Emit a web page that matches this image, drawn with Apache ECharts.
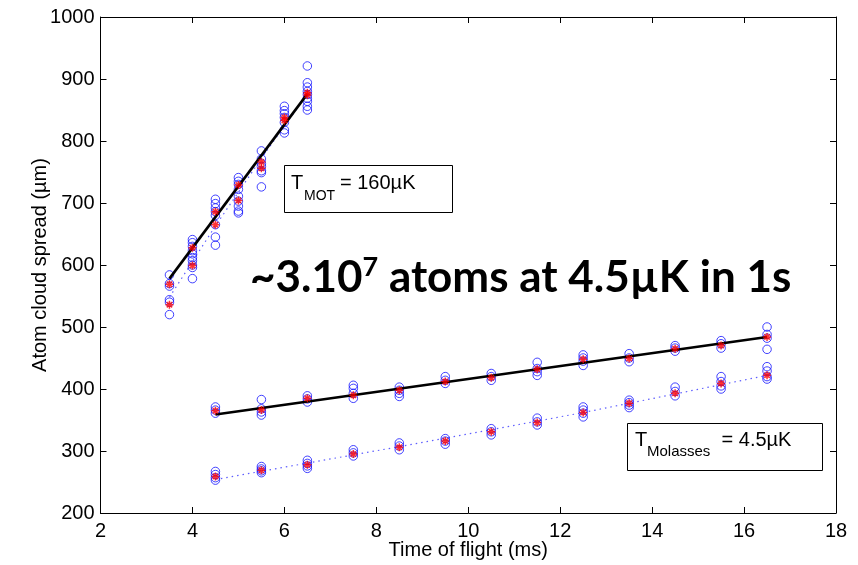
<!DOCTYPE html>
<html>
<head>
<meta charset="utf-8">
<title>Atom cloud spread vs time of flight</title>
<script src="https://cdn.jsdelivr.net/npm/echarts@6/dist/echarts.min.js"></script>
<style>
  html, body { margin: 0; padding: 0; background: #fff; }
  #chart { width: 858px; height: 565px; }
</style>
</head>
<body>
<div id="chart"></div>
<script>
// Axis ticks
const xTicks = [2, 4, 6, 8, 10, 12, 14, 16, 18];
const yTicks = [200, 300, 400, 500, 600, 700, 800, 900, 1000];

// MOT release: individual shots (µm) per time of flight (ms)
const motTimes = [3.5, 4, 4.5, 5, 5.5, 6, 6.5];
const motSpreads = [
  [584, 570, 566, 544, 540, 520],
  [641, 636, 630, 623, 618, 612, 607, 600, 596, 578],
  [706, 699, 692, 686, 680, 665, 645, 632],
  [741, 735, 730, 722, 711, 703, 695, 687, 684],
  [784, 771, 764, 759, 752, 749, 726],
  [856, 849, 844, 838, 830, 818, 813],
  [921, 894, 887, 880, 875, 869, 864, 856, 850]
];
const motMeans = [[569, 536], [628, 599], [686, 665], [729, 704], [766, 756], [838, 833], [878, 874]];

// Molasses release
const molTimes = [4.5, 5.5, 6.5, 7.5, 8.5, 9.5, 10.5, 11.5, 12.5, 13.5, 14.5, 15.5, 16.5];
const molUpperSpreads = [
  [371, 366, 361], [383, 368, 363, 358], [389, 384, 379], [406, 401, 393, 385],
  [403, 398, 393, 388], [420, 414, 409], [425, 420, 414], [443, 433, 428, 422],
  [455, 450, 445, 438], [457, 450, 444], [470, 466, 461], [478, 473, 466],
  [500, 488, 482, 464]
];
const molUpperMeans = [365, 366, 385, 390, 398, 412, 418, 432, 448, 449, 465, 470, 484];
const molLowerSpreads = [
  [267, 262, 257, 253], [275, 271, 268, 265], [285, 280, 276, 272], [302, 297, 292],
  [313, 308, 302], [320, 316, 311], [336, 331, 326], [353, 347, 342],
  [371, 366, 361, 355], [382, 378, 374, 370], [403, 396, 389], [420, 412, 405, 400],
  [436, 429, 420, 416]
];
const molLowerMeans = [259, 269, 278, 295, 306, 316, 331, 346, 362, 377, 393, 409, 422];

// Fitted expansion curves
const motFit = [[3.5, 578], [6.5, 876]];
const motModel = [[3.5, 548], [4.5, 663], [5.5, 772], [6.5, 876]];
const molFit = [[4.5, 359], [16.5, 484]];
const molModel = [[4.5, 254], [8.5, 307], [12.5, 362], [16.5, 422]];

function shots(times, groups) {
  const out = [];
  times.forEach((t, i) => groups[i].forEach(v => out.push([t, v])));
  return out;
}
function means(times, vals) {
  const out = [];
  times.forEach((t, i) => [].concat(vals[i]).forEach(v => out.push([t, v])));
  return out;
}

const FONT = '"Liberation Sans", Arial, Helvetica, sans-serif';
const blue = '#1414ff';
const star = 'path://M5,0L5,10M0,5L10,5M1.6,1.6L8.4,8.4M1.6,8.4L8.4,1.6';

const circleSeries = (data) => ({
  type: 'scatter', data, symbol: 'circle', symbolSize: 8.5,
  itemStyle: { color: 'rgba(0,0,0,0)', borderColor: blue, borderWidth: 1 },
  z: 2
});
const starSeries = (data) => ({
  type: 'scatter', data, symbol: star, symbolSize: 8,
  itemStyle: { color: 'rgba(0,0,0,0)', borderColor: '#ff0000', borderWidth: 1.5 },
  z: 5
});
const fitSeries = (data) => ({
  type: 'line', data, showSymbol: false, symbol: 'none',
  lineStyle: { color: '#000', width: 2.6 }, z: 4
});
const modelSeries = (data) => ({
  type: 'line', data, showSymbol: false, symbol: 'none', smooth: false,
  lineStyle: { color: 'rgba(40,40,255,0.75)', width: 1.2, type: [1.5, 4] }, z: 3
});

const axisCommon = {
  type: 'value',
  axisLine: { show: true, onZero: false, lineStyle: { color: '#000', width: 1 } },
  axisTick: { show: true, inside: true, length: 6, lineStyle: { color: '#000' } },
  splitLine: { show: false }
};
const plain = v => String(v);

const chart = echarts.init(document.getElementById('chart'), null, { renderer: 'canvas' });
chart.setOption({
  animation: false,
  backgroundColor: '#fff',
  grid: { left: 100.5, right: 22, top: 17, bottom: 50, containLabel: false },
  xAxis: [
    Object.assign({}, axisCommon, {
      position: 'bottom', min: xTicks[0], max: xTicks[xTicks.length - 1], interval: 2,
      name: 'Time of flight (ms)', nameLocation: 'middle', nameGap: 27, nameMoveOverlap: false,
      nameTextStyle: { fontFamily: FONT, fontSize: 20, color: '#000' },
      axisLabel: { fontFamily: FONT, fontSize: 20, color: '#000', margin: 8, formatter: plain }
    }),
    Object.assign({}, axisCommon, {
      position: 'top', min: xTicks[0], max: xTicks[xTicks.length - 1], interval: 2,
      axisLabel: { show: false }
    })
  ],
  yAxis: [
    Object.assign({}, axisCommon, {
      position: 'left', min: yTicks[0], max: yTicks[yTicks.length - 1], interval: 100,
      name: 'Atom cloud spread (µm)', nameLocation: 'middle', nameGap: 50, nameRotate: 90,
      nameMoveOverlap: false,
      nameTextStyle: { fontFamily: FONT, fontSize: 20, color: '#000' },
      axisLabel: { fontFamily: FONT, fontSize: 20, color: '#000', margin: 6, formatter: plain }
    }),
    Object.assign({}, axisCommon, {
      position: 'right', min: yTicks[0], max: yTicks[yTicks.length - 1], interval: 100,
      axisLabel: { show: false }
    })
  ],
  series: [
    circleSeries(shots(motTimes, motSpreads)),
    circleSeries(shots(molTimes, molUpperSpreads)),
    circleSeries(shots(molTimes, molLowerSpreads)),
    modelSeries(motModel),
    modelSeries(molModel),
    fitSeries(motFit),
    fitSeries(molFit),
    starSeries(means(motTimes, motMeans)),
    starSeries(means(molTimes, molUpperMeans)),
    starSeries(means(molTimes, molLowerMeans))
  ],
  graphic: [
    // MOT temperature box
    { type: 'rect', shape: { x: 284.5, y: 165.5, width: 168, height: 47 },
      style: { fill: '#fff', stroke: '#000', lineWidth: 1 }, z: 10 },
    { type: 'text', x: 291, y: 183.5, z: 11,
      style: { text: 'T', font: '20px ' + FONT, fill: '#000', verticalAlign: 'middle' } },
    { type: 'text', x: 304, y: 196, z: 11,
      style: { text: 'MOT', font: '14px ' + FONT, fill: '#000', verticalAlign: 'middle' } },
    { type: 'text', x: 340, y: 183.5, z: 11,
      style: { text: '= 160µK', font: '20px ' + FONT, fill: '#000', verticalAlign: 'middle' } },
    // Molasses temperature box
    { type: 'rect', shape: { x: 627.5, y: 423.5, width: 195, height: 47 },
      style: { fill: '#fff', stroke: '#000', lineWidth: 1 }, z: 10 },
    { type: 'text', x: 635, y: 440, z: 11,
      style: { text: 'T', font: '20px ' + FONT, fill: '#000', verticalAlign: 'middle' } },
    { type: 'text', x: 647, y: 451.5, z: 11,
      style: { text: 'Molasses', font: '15px ' + FONT, fill: '#000', verticalAlign: 'middle' } },
    { type: 'text', x: 716, y: 440, z: 11,
      style: { text: ' = 4.5µK', font: '20px ' + FONT, fill: '#000', verticalAlign: 'middle' } },
    // Headline
    { type: 'text', x: 250, y: 252, z: 11,
      style: {
        text: '{a|~3.10}{b|7}{a| atoms at 4.5µK in 1s}',
        verticalAlign: 'top',
        rich: {
          a: { fontFamily: 'Lato', fontWeight: 'bold', fontSize: 44, lineHeight: 48, color: '#000', verticalAlign: 'bottom' },
          b: { fontFamily: 'Lato', fontWeight: 'bold', fontSize: 27, lineHeight: 27, color: '#000', verticalAlign: 'top', padding: [2, 0, 0, 0] }
        }
      } }
  ]
});
</script>
</body>
</html>
